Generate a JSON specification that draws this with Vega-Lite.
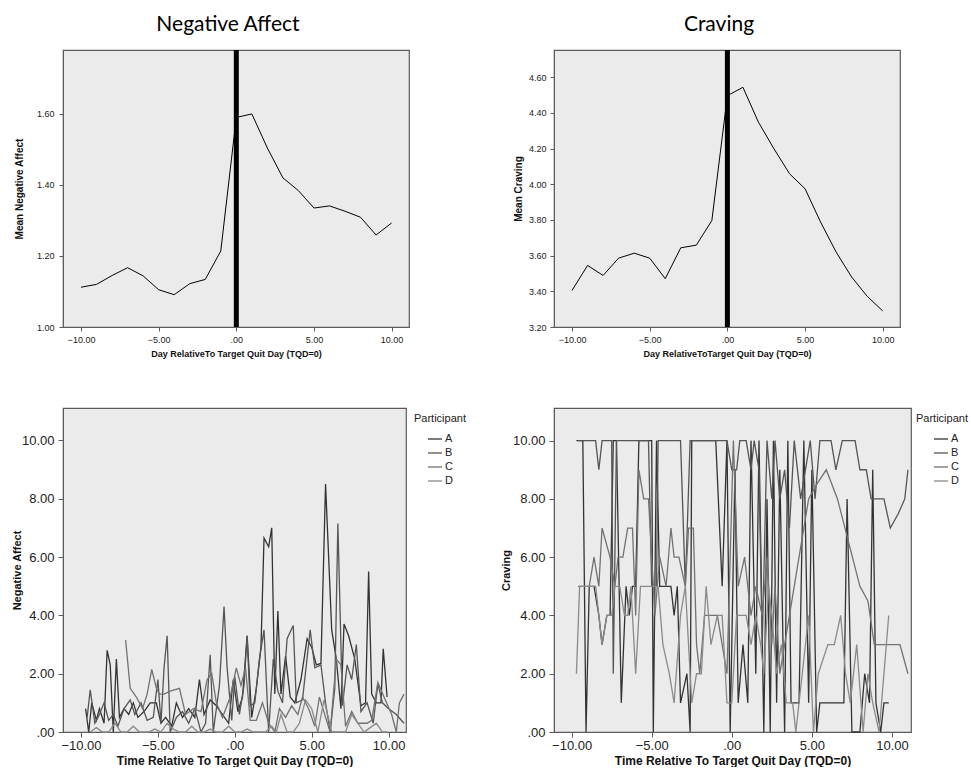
{
  "$schema": "https://vega.github.io/schema/vega-lite/v6.json",
  "padding": {"left": 10, "top": 12, "right": 0, "bottom": 0},
  "background": "white",
  "config": {
    "font": "Liberation Sans",
    "view": {"fill": "#ebebeb", "stroke": "#5b5b5b", "strokeWidth": 1.2},
    "axis": {"grid": false, "domainColor": "#5b5b5b", "tickColor": "#5b5b5b", "labelColor": "#222222", "titleColor": "#111111", "labelFont": "Liberation Sans", "titleFont": "Liberation Sans"},
    "title": {"font": "Lato", "fontSize": 21, "fontWeight": "normal", "color": "#000000"},
    "legend": {"orient": "right", "offset": 2, "padding": 5, "titleFontSize": 11, "titleFontWeight": "normal", "titleColor": "#222222", "labelFontSize": 11, "labelColor": "#222222", "symbolType": "stroke", "symbolSize": 196, "symbolStrokeWidth": 1.3, "symbolOffset": 13, "titlePadding": 7, "rowPadding": 1, "labelOffset": 2}
  },
  "datasets": {
    "na_mean": [
      {"day": -10, "value": 1.112}, {"day": -9, "value": 1.12}, {"day": -8, "value": 1.145}, {"day": -7, "value": 1.167},
      {"day": -6, "value": 1.144}, {"day": -5, "value": 1.105}, {"day": -4, "value": 1.091}, {"day": -3, "value": 1.122},
      {"day": -2, "value": 1.134}, {"day": -1, "value": 1.214}, {"day": 0, "value": 1.59}, {"day": 1, "value": 1.6},
      {"day": 2, "value": 1.504}, {"day": 3, "value": 1.42}, {"day": 4, "value": 1.384}, {"day": 5, "value": 1.335},
      {"day": 6, "value": 1.341}, {"day": 7, "value": 1.326}, {"day": 8, "value": 1.309}, {"day": 9, "value": 1.259},
      {"day": 10, "value": 1.293}
    ],
    "cr_mean": [
      {"day": -10, "value": 3.405}, {"day": -9, "value": 3.545}, {"day": -8, "value": 3.489}, {"day": -7, "value": 3.586},
      {"day": -6, "value": 3.614}, {"day": -5, "value": 3.586}, {"day": -4, "value": 3.471}, {"day": -3, "value": 3.644},
      {"day": -2, "value": 3.659}, {"day": -1, "value": 3.797}, {"day": 0, "value": 4.497}, {"day": 1, "value": 4.544},
      {"day": 2, "value": 4.348}, {"day": 3, "value": 4.199}, {"day": 4, "value": 4.059}, {"day": 5, "value": 3.975},
      {"day": 6, "value": 3.788}, {"day": 7, "value": 3.62}, {"day": 8, "value": 3.48}, {"day": 9, "value": 3.372},
      {"day": 10, "value": 3.29}
    ],
    "zero": [{"day": 0}],
    "na": [
      {"p":"A","t":-9.7,"v":0.8},{"p":"A","t":-9.5,"v":0.0},{"p":"A","t":-9.3,"v":1.0},{"p":"A","t":-9.0,"v":0.4},{"p":"A","t":-8.8,"v":0.8},{"p":"A","t":-8.5,"v":0.3},{"p":"A","t":-8.3,"v":2.8},{"p":"A","t":-8.1,"v":2.3},{"p":"A","t":-7.9,"v":0.0},{"p":"A","t":-7.7,"v":2.5},{"p":"A","t":-7.5,"v":0.5},{"p":"A","t":-7.2,"v":0.8},{"p":"A","t":-6.9,"v":0.6},{"p":"A","t":-6.6,"v":1.0},{"p":"A","t":-6.3,"v":0.5},{"p":"A","t":-5.9,"v":0.7},{"p":"A","t":-5.5,"v":1.0},{"p":"A","t":-5.1,"v":1.0},{"p":"A","t":-4.8,"v":0.3},{"p":"A","t":-4.5,"v":0.5},{"p":"A","t":-4.1,"v":0.2},{"p":"A","t":-3.8,"v":1.0},{"p":"A","t":-3.4,"v":0.5},{"p":"A","t":-3.0,"v":0.8},{"p":"A","t":-2.6,"v":0.5},{"p":"A","t":-2.3,"v":1.8},{"p":"A","t":-2.0,"v":0.6},{"p":"A","t":-1.6,"v":1.1},{"p":"A","t":-1.2,"v":0.9},{"p":"A","t":-0.8,"v":0.6},{"p":"A","t":-0.4,"v":0.3},{"p":"A","t":-0.1,"v":1.8},{"p":"A","t":0.2,"v":0.7},{"p":"A","t":0.5,"v":1.2},{"p":"A","t":0.8,"v":3.3},{"p":"A","t":1.1,"v":0.5},{"p":"A","t":1.4,"v":1.5},{"p":"A","t":1.7,"v":2.9},{"p":"A","t":1.9,"v":6.65},{"p":"A","t":2.2,"v":6.35},{"p":"A","t":2.4,"v":7.0},{"p":"A","t":2.6,"v":1.3},{"p":"A","t":2.8,"v":4.15},{"p":"A","t":3.0,"v":1.3},{"p":"A","t":3.3,"v":2.6},{"p":"A","t":3.6,"v":1.2},{"p":"A","t":3.9,"v":1.0},{"p":"A","t":4.3,"v":1.8},{"p":"A","t":4.7,"v":3.2},{"p":"A","t":5.0,"v":2.9},{"p":"A","t":5.3,"v":2.3},{"p":"A","t":5.6,"v":2.35},{"p":"A","t":5.9,"v":8.5},{"p":"A","t":6.3,"v":3.5},{"p":"A","t":6.6,"v":2.5},{"p":"A","t":6.9,"v":0.8},{"p":"A","t":7.1,"v":3.7},{"p":"A","t":7.4,"v":3.3},{"p":"A","t":7.8,"v":2.5},{"p":"A","t":8.2,"v":0.9},{"p":"A","t":8.5,"v":1.0},{"p":"A","t":8.7,"v":5.5},{"p":"A","t":8.9,"v":1.3},{"p":"A","t":9.2,"v":1.0},{"p":"A","t":9.5,"v":1.0},{"p":"A","t":9.65,"v":2.85},{"p":"A","t":9.9,"v":1.2},
      {"p":"B","t":-9.6,"v":0.5},{"p":"B","t":-9.4,"v":1.45},{"p":"B","t":-9.1,"v":0.3},{"p":"B","t":-8.8,"v":0.6},{"p":"B","t":-8.5,"v":1.0},{"p":"B","t":-8.2,"v":0.4},{"p":"B","t":-7.9,"v":0.6},{"p":"B","t":-7.6,"v":0.2},{"p":"B","t":-7.2,"v":0.8},{"p":"B","t":-6.8,"v":1.1},{"p":"B","t":-6.5,"v":0.6},{"p":"B","t":-6.1,"v":1.0},{"p":"B","t":-5.7,"v":0.4},{"p":"B","t":-5.3,"v":0.5},{"p":"B","t":-5.0,"v":1.8},{"p":"B","t":-4.8,"v":0.3},{"p":"B","t":-4.6,"v":2.2},{"p":"B","t":-4.4,"v":3.3},{"p":"B","t":-4.2,"v":0.0},{"p":"B","t":-3.8,"v":0.5},{"p":"B","t":-3.4,"v":0.7},{"p":"B","t":-3.0,"v":0.3},{"p":"B","t":-2.6,"v":0.8},{"p":"B","t":-2.2,"v":0.0},{"p":"B","t":-1.9,"v":0.3},{"p":"B","t":-1.6,"v":2.65},{"p":"B","t":-1.4,"v":0.0},{"p":"B","t":-1.0,"v":1.6},{"p":"B","t":-0.7,"v":4.3},{"p":"B","t":-0.5,"v":2.2},{"p":"B","t":-0.2,"v":0.4},{"p":"B","t":0.0,"v":1.9},{"p":"B","t":0.3,"v":0.6},{"p":"B","t":0.6,"v":1.6},{"p":"B","t":0.8,"v":3.3},{"p":"B","t":1.0,"v":0.9},{"p":"B","t":1.3,"v":1.0},{"p":"B","t":1.6,"v":2.5},{"p":"B","t":1.9,"v":3.5},{"p":"B","t":2.2,"v":0.0},{"p":"B","t":2.5,"v":2.5},{"p":"B","t":2.8,"v":1.4},{"p":"B","t":3.1,"v":1.0},{"p":"B","t":3.4,"v":3.2},{"p":"B","t":3.8,"v":3.65},{"p":"B","t":4.0,"v":1.0},{"p":"B","t":4.4,"v":1.1},{"p":"B","t":4.9,"v":3.5},{"p":"B","t":5.2,"v":2.2},{"p":"B","t":5.6,"v":2.3},{"p":"B","t":5.9,"v":1.0},{"p":"B","t":6.2,"v":0.0},{"p":"B","t":6.5,"v":1.5},{"p":"B","t":6.7,"v":7.15},{"p":"B","t":7.0,"v":0.9},{"p":"B","t":7.3,"v":2.3},{"p":"B","t":7.6,"v":1.8},{"p":"B","t":7.9,"v":3.0},{"p":"B","t":8.2,"v":0.7},{"p":"B","t":8.6,"v":1.0},{"p":"B","t":9.0,"v":0.3},{"p":"B","t":9.3,"v":1.65},{"p":"B","t":9.6,"v":1.0},{"p":"B","t":10.0,"v":0.8},{"p":"B","t":10.5,"v":0.6},{"p":"B","t":11.0,"v":0.3},
      {"p":"C","t":-7.1,"v":3.15},{"p":"C","t":-6.8,"v":1.5},{"p":"C","t":-6.4,"v":1.2},{"p":"C","t":-6.0,"v":0.8},{"p":"C","t":-5.7,"v":1.3},{"p":"C","t":-5.4,"v":2.15},{"p":"C","t":-5.1,"v":1.5},{"p":"C","t":-4.9,"v":1.3},{"p":"C","t":-4.6,"v":1.3},{"p":"C","t":-4.2,"v":1.4},{"p":"C","t":-3.6,"v":1.5},{"p":"C","t":-3.2,"v":0.6},{"p":"C","t":-2.7,"v":0.8},{"p":"C","t":-2.2,"v":0.7},{"p":"C","t":-1.8,"v":1.8},{"p":"C","t":-1.5,"v":2.0},{"p":"C","t":-1.2,"v":1.0},{"p":"C","t":-0.8,"v":0.5},{"p":"C","t":-0.3,"v":1.2},{"p":"C","t":0.1,"v":2.2},{"p":"C","t":0.4,"v":1.6},{"p":"C","t":0.7,"v":2.2},{"p":"C","t":1.0,"v":0.4},{"p":"C","t":1.4,"v":0.4},{"p":"C","t":1.8,"v":1.0},{"p":"C","t":2.2,"v":0.3},{"p":"C","t":2.6,"v":0.0},{"p":"C","t":2.9,"v":0.8},{"p":"C","t":3.3,"v":0.5},{"p":"C","t":3.7,"v":0.9},{"p":"C","t":4.1,"v":0.6},{"p":"C","t":4.4,"v":1.2},{"p":"C","t":4.8,"v":0.8},{"p":"C","t":5.2,"v":0.2},{"p":"C","t":5.5,"v":1.2},{"p":"C","t":5.9,"v":0.5},{"p":"C","t":6.2,"v":0.0},{"p":"C","t":6.6,"v":2.5},{"p":"C","t":6.9,"v":2.3},{"p":"C","t":7.2,"v":0.2},{"p":"C","t":7.6,"v":0.7},{"p":"C","t":8.0,"v":0.3},{"p":"C","t":8.3,"v":0.3},{"p":"C","t":8.6,"v":0.3},{"p":"C","t":8.9,"v":0.4},{"p":"C","t":9.3,"v":1.7},{"p":"C","t":9.7,"v":1.2},{"p":"C","t":10.2,"v":0.6},{"p":"C","t":10.5,"v":0.0},{"p":"C","t":10.7,"v":1.0},{"p":"C","t":11.0,"v":1.3},
      {"p":"D","t":-9.4,"v":0.0},{"p":"D","t":-9.0,"v":0.15},{"p":"D","t":-8.6,"v":0.0},{"p":"D","t":-8.2,"v":0.0},{"p":"D","t":-7.8,"v":0.3},{"p":"D","t":-7.4,"v":0.0},{"p":"D","t":-7.0,"v":0.0},{"p":"D","t":-6.6,"v":0.2},{"p":"D","t":-6.2,"v":0.0},{"p":"D","t":-5.6,"v":0.0},{"p":"D","t":-5.2,"v":0.1},{"p":"D","t":-4.8,"v":0.0},{"p":"D","t":-4.4,"v":0.3},{"p":"D","t":-4.0,"v":0.1},{"p":"D","t":-3.6,"v":0.0},{"p":"D","t":-3.2,"v":0.0},{"p":"D","t":-2.8,"v":0.2},{"p":"D","t":-2.4,"v":0.0},{"p":"D","t":-2.0,"v":0.0},{"p":"D","t":-1.6,"v":0.1},{"p":"D","t":-1.2,"v":0.0},{"p":"D","t":-0.8,"v":0.0},{"p":"D","t":-0.4,"v":0.2},{"p":"D","t":0.0,"v":0.0},{"p":"D","t":0.4,"v":0.0},{"p":"D","t":0.8,"v":0.1},{"p":"D","t":1.2,"v":0.0},{"p":"D","t":1.6,"v":0.0},{"p":"D","t":2.0,"v":0.0},{"p":"D","t":2.4,"v":0.2},{"p":"D","t":2.7,"v":0.0},{"p":"D","t":3.0,"v":0.6},{"p":"D","t":3.4,"v":0.0},{"p":"D","t":3.8,"v":0.0},{"p":"D","t":4.2,"v":0.3},{"p":"D","t":4.6,"v":1.1},{"p":"D","t":5.0,"v":0.8},{"p":"D","t":5.4,"v":0.0},{"p":"D","t":5.8,"v":1.1},{"p":"D","t":6.3,"v":0.0},{"p":"D","t":6.8,"v":0.0},{"p":"D","t":7.2,"v":0.0},{"p":"D","t":7.6,"v":0.6},{"p":"D","t":8.0,"v":0.3},{"p":"D","t":8.4,"v":0.0},{"p":"D","t":8.8,"v":0.15},{"p":"D","t":9.2,"v":0.3},{"p":"D","t":9.6,"v":0.0},{"p":"D","t":9.9,"v":0.0}
    ],
    "cr": [
      {"p":"A","t":-9.7,"v":10},{"p":"A","t":-9.5,"v":10},{"p":"A","t":-9.3,"v":10},{"p":"A","t":-9.1,"v":0},{"p":"A","t":-8.9,"v":5},{"p":"A","t":-8.6,"v":5},{"p":"A","t":-8.3,"v":4},{"p":"A","t":-8.1,"v":3},{"p":"A","t":-7.8,"v":4},{"p":"A","t":-7.6,"v":4},{"p":"A","t":-7.4,"v":10},{"p":"A","t":-7.2,"v":10},{"p":"A","t":-6.9,"v":1},{"p":"A","t":-6.6,"v":5},{"p":"A","t":-6.4,"v":4},{"p":"A","t":-6.2,"v":5},{"p":"A","t":-6.0,"v":5},{"p":"A","t":-5.8,"v":10},{"p":"A","t":-5.4,"v":10},{"p":"A","t":-5.0,"v":10},{"p":"A","t":-4.9,"v":0},{"p":"A","t":-4.7,"v":10},{"p":"A","t":-4.5,"v":5},{"p":"A","t":-4.1,"v":5},{"p":"A","t":-3.8,"v":5},{"p":"A","t":-3.6,"v":4},{"p":"A","t":-3.4,"v":5},{"p":"A","t":-3.2,"v":1},{"p":"A","t":-2.8,"v":2},{"p":"A","t":-2.6,"v":0},{"p":"A","t":-2.5,"v":10},{"p":"A","t":-2.0,"v":10},{"p":"A","t":-1.5,"v":10},{"p":"A","t":-1.0,"v":10},{"p":"A","t":-0.6,"v":5},{"p":"A","t":-0.3,"v":10},{"p":"A","t":-0.1,"v":0},{"p":"A","t":0.2,"v":9},{"p":"A","t":0.4,"v":1},{"p":"A","t":0.7,"v":3},{"p":"A","t":1.0,"v":1},{"p":"A","t":1.2,"v":10},{"p":"A","t":1.5,"v":2},{"p":"A","t":1.7,"v":10},{"p":"A","t":2.0,"v":0},{"p":"A","t":2.2,"v":8},{"p":"A","t":2.4,"v":0},{"p":"A","t":2.6,"v":10},{"p":"A","t":2.8,"v":1},{"p":"A","t":3.0,"v":9},{"p":"A","t":3.3,"v":0},{"p":"A","t":3.5,"v":10},{"p":"A","t":3.7,"v":1},{"p":"A","t":4.0,"v":1},{"p":"A","t":4.2,"v":1},{"p":"A","t":4.5,"v":10},{"p":"A","t":4.8,"v":1},{"p":"A","t":5.0,"v":9},{"p":"A","t":5.3,"v":0},{"p":"A","t":5.5,"v":1},{"p":"A","t":6.0,"v":1},{"p":"A","t":6.5,"v":1},{"p":"A","t":7.0,"v":1},{"p":"A","t":7.2,"v":8},{"p":"A","t":7.5,"v":0},{"p":"A","t":8.0,"v":0},{"p":"A","t":8.3,"v":2},{"p":"A","t":8.6,"v":1},{"p":"A","t":8.8,"v":9},{"p":"A","t":9.0,"v":1},{"p":"A","t":9.3,"v":0},{"p":"A","t":9.5,"v":1},{"p":"A","t":9.8,"v":1},
      {"p":"B","t":-9.6,"v":10},{"p":"B","t":-9.2,"v":10},{"p":"B","t":-8.8,"v":10},{"p":"B","t":-8.5,"v":10},{"p":"B","t":-8.3,"v":9},{"p":"B","t":-8.1,"v":10},{"p":"B","t":-7.8,"v":10},{"p":"B","t":-7.5,"v":10},{"p":"B","t":-7.4,"v":2},{"p":"B","t":-7.2,"v":10},{"p":"B","t":-6.8,"v":10},{"p":"B","t":-6.4,"v":10},{"p":"B","t":-6.0,"v":10},{"p":"B","t":-5.6,"v":10},{"p":"B","t":-5.2,"v":10},{"p":"B","t":-5.0,"v":5},{"p":"B","t":-4.7,"v":5},{"p":"B","t":-4.6,"v":10},{"p":"B","t":-4.2,"v":10},{"p":"B","t":-3.8,"v":10},{"p":"B","t":-3.5,"v":10},{"p":"B","t":-3.2,"v":10},{"p":"B","t":-2.9,"v":5},{"p":"B","t":-2.6,"v":10},{"p":"B","t":-2.2,"v":10},{"p":"B","t":-1.8,"v":10},{"p":"B","t":-1.4,"v":10},{"p":"B","t":-1.0,"v":10},{"p":"B","t":-0.6,"v":10},{"p":"B","t":-0.3,"v":10},{"p":"B","t":0.0,"v":9},{"p":"B","t":0.3,"v":9},{"p":"B","t":0.5,"v":10},{"p":"B","t":0.9,"v":10},{"p":"B","t":1.2,"v":9},{"p":"B","t":1.4,"v":10},{"p":"B","t":1.7,"v":9},{"p":"B","t":1.9,"v":3},{"p":"B","t":2.2,"v":10},{"p":"B","t":2.5,"v":8},{"p":"B","t":2.7,"v":10},{"p":"B","t":3.0,"v":8},{"p":"B","t":3.3,"v":9},{"p":"B","t":3.6,"v":7},{"p":"B","t":3.9,"v":10},{"p":"B","t":4.3,"v":8},{"p":"B","t":4.6,"v":9},{"p":"B","t":4.9,"v":10},{"p":"B","t":5.2,"v":8},{"p":"B","t":5.5,"v":10},{"p":"B","t":5.8,"v":10},{"p":"B","t":6.2,"v":10},{"p":"B","t":6.5,"v":9},{"p":"B","t":6.9,"v":10},{"p":"B","t":7.3,"v":10},{"p":"B","t":7.7,"v":10},{"p":"B","t":8.0,"v":9},{"p":"B","t":8.4,"v":9},{"p":"B","t":8.7,"v":8},{"p":"B","t":9.0,"v":8},{"p":"B","t":9.5,"v":8},{"p":"B","t":9.9,"v":7},{"p":"B","t":10.4,"v":7.5},{"p":"B","t":10.8,"v":8},{"p":"B","t":11.0,"v":9},
      {"p":"C","t":-9.6,"v":5},{"p":"C","t":-9.3,"v":5},{"p":"C","t":-8.9,"v":5},{"p":"C","t":-8.6,"v":6},{"p":"C","t":-8.3,"v":5},{"p":"C","t":-8.1,"v":7},{"p":"C","t":-7.6,"v":6},{"p":"C","t":-7.3,"v":5},{"p":"C","t":-7.1,"v":6},{"p":"C","t":-6.8,"v":6},{"p":"C","t":-6.5,"v":7},{"p":"C","t":-6.2,"v":7},{"p":"C","t":-6.0,"v":4},{"p":"C","t":-5.8,"v":9},{"p":"C","t":-5.5,"v":8},{"p":"C","t":-5.2,"v":8},{"p":"C","t":-5.0,"v":6},{"p":"C","t":-4.8,"v":4},{"p":"C","t":-4.5,"v":6},{"p":"C","t":-4.1,"v":5},{"p":"C","t":-3.8,"v":7},{"p":"C","t":-3.6,"v":6},{"p":"C","t":-3.3,"v":6},{"p":"C","t":-2.9,"v":5},{"p":"C","t":-2.7,"v":7},{"p":"C","t":-2.4,"v":7},{"p":"C","t":-2.2,"v":3},{"p":"C","t":-2.0,"v":2},{"p":"C","t":-1.7,"v":4},{"p":"C","t":-1.3,"v":4},{"p":"C","t":-0.9,"v":4},{"p":"C","t":-0.6,"v":3},{"p":"C","t":-0.3,"v":2},{"p":"C","t":0.1,"v":10},{"p":"C","t":0.4,"v":5},{"p":"C","t":0.8,"v":6},{"p":"C","t":1.2,"v":4},{"p":"C","t":1.5,"v":5},{"p":"C","t":1.9,"v":4},{"p":"C","t":2.2,"v":6},{"p":"C","t":2.5,"v":3},{"p":"C","t":2.7,"v":5},{"p":"C","t":3.0,"v":2},{"p":"C","t":3.3,"v":3},{"p":"C","t":3.6,"v":4},{"p":"C","t":4.2,"v":6},{"p":"C","t":4.8,"v":8},{"p":"C","t":5.3,"v":8.5},{"p":"C","t":5.9,"v":9},{"p":"C","t":6.6,"v":8},{"p":"C","t":7.3,"v":6.5},{"p":"C","t":8.0,"v":5},{"p":"C","t":8.5,"v":4.5},{"p":"C","t":8.9,"v":3},{"p":"C","t":9.5,"v":3},{"p":"C","t":10.1,"v":3},{"p":"C","t":10.5,"v":3},{"p":"C","t":11.0,"v":2},
      {"p":"D","t":-9.7,"v":2},{"p":"D","t":-9.5,"v":5},{"p":"D","t":-9.2,"v":5},{"p":"D","t":-8.8,"v":5},{"p":"D","t":-8.5,"v":5},{"p":"D","t":-8.1,"v":3},{"p":"D","t":-7.8,"v":4},{"p":"D","t":-7.5,"v":4},{"p":"D","t":-7.3,"v":5},{"p":"D","t":-7.0,"v":5},{"p":"D","t":-6.7,"v":4},{"p":"D","t":-6.5,"v":4},{"p":"D","t":-6.3,"v":5},{"p":"D","t":-6.0,"v":2},{"p":"D","t":-5.7,"v":5},{"p":"D","t":-5.3,"v":5},{"p":"D","t":-5.0,"v":5},{"p":"D","t":-4.6,"v":5},{"p":"D","t":-4.3,"v":3},{"p":"D","t":-3.9,"v":2},{"p":"D","t":-3.6,"v":1},{"p":"D","t":-3.2,"v":4},{"p":"D","t":-2.9,"v":5},{"p":"D","t":-2.5,"v":1},{"p":"D","t":-2.2,"v":2},{"p":"D","t":-1.9,"v":2},{"p":"D","t":-1.6,"v":5},{"p":"D","t":-1.3,"v":3},{"p":"D","t":-0.9,"v":4},{"p":"D","t":-0.6,"v":4},{"p":"D","t":-0.3,"v":1},{"p":"D","t":0.0,"v":1},{"p":"D","t":0.3,"v":4},{"p":"D","t":0.6,"v":4},{"p":"D","t":0.9,"v":4},{"p":"D","t":1.2,"v":3},{"p":"D","t":1.5,"v":4},{"p":"D","t":1.8,"v":3},{"p":"D","t":2.0,"v":2},{"p":"D","t":2.3,"v":5},{"p":"D","t":2.5,"v":4},{"p":"D","t":2.8,"v":2},{"p":"D","t":3.1,"v":3},{"p":"D","t":3.4,"v":1},{"p":"D","t":3.8,"v":1},{"p":"D","t":4.0,"v":0},{"p":"D","t":4.4,"v":2},{"p":"D","t":4.8,"v":4},{"p":"D","t":5.1,"v":0},{"p":"D","t":5.4,"v":2},{"p":"D","t":6.0,"v":3},{"p":"D","t":6.4,"v":3},{"p":"D","t":6.8,"v":4},{"p":"D","t":7.1,"v":2},{"p":"D","t":7.4,"v":1},{"p":"D","t":7.8,"v":3},{"p":"D","t":8.2,"v":0},{"p":"D","t":8.5,"v":2},{"p":"D","t":8.8,"v":1},{"p":"D","t":9.2,"v":0},{"p":"D","t":9.5,"v":2},{"p":"D","t":9.8,"v":4}
    ]
  },
  "bounds": "flush",
  "columns": 2,
  "spacing": {"row": 81, "column": 145},
  "resolve": {"scale": {"color": "independent"}, "legend": {"color": "independent"}},
  "concat": [
    {
      "width": 346, "height": 277,
      "title": {"text": "Negative Affect", "offset": -4, "dx": -8, "baseline": "alphabetic"},
      "layer": [
        {
          "data": {"name": "na_mean"},
          "mark": {"type": "line", "color": "#000000", "strokeWidth": 1},
          "encoding": {
            "x": {"field": "day", "type": "quantitative", "scale": {"domain": [-11.16, 11.12], "nice": false, "zero": false},
              "axis": {"values": [-10, -5, 0, 5, 10], "labelExpr": "datum.value === 0 ? '.00' : format(datum.value, '.2f')", "title": "Day RelativeTo Target Quit Day (TQD=0)", "titleFontSize": 9, "titleFontWeight": "bold", "labelFontSize": 9, "tickSize": 4, "labelPadding": 4, "titlePadding": 5}},
            "y": {"field": "value", "type": "quantitative", "scale": {"domain": [1, 1.78], "nice": false, "zero": false},
              "axis": {"values": [1, 1.2, 1.4, 1.6], "format": ".2f", "title": "Mean Negative Affect", "titleFontSize": 10, "titleFontWeight": "bold", "labelFontSize": 9, "tickSize": 4, "labelPadding": 5, "minExtent": 27, "maxExtent": 27, "titlePadding": 12}}
          }
        },
        {
          "data": {"name": "zero"},
          "mark": {"type": "rule", "color": "#000000", "strokeWidth": 5},
          "encoding": {"x": {"field": "day", "type": "quantitative"}}
        }
      ]
    },
    {
      "width": 346, "height": 277,
      "title": {"text": "Craving", "offset": -4, "dx": -8, "baseline": "alphabetic"},
      "layer": [
        {
          "data": {"name": "cr_mean"},
          "mark": {"type": "line", "color": "#000000", "strokeWidth": 1},
          "encoding": {
            "x": {"field": "day", "type": "quantitative", "scale": {"domain": [-11.16, 11.11], "nice": false, "zero": false},
              "axis": {"values": [-10, -5, 0, 5, 10], "labelExpr": "datum.value === 0 ? '.00' : format(datum.value, '.2f')", "title": "Day RelativeToTarget Quit Day (TQD=0)", "titleFontSize": 9, "titleFontWeight": "bold", "labelFontSize": 9, "tickSize": 4, "labelPadding": 4, "titlePadding": 5}},
            "y": {"field": "value", "type": "quantitative", "scale": {"domain": [3.2, 4.753], "nice": false, "zero": false},
              "axis": {"values": [3.2, 3.4, 3.6, 3.8, 4.0, 4.2, 4.4, 4.6], "format": ".2f", "title": "Mean Craving", "titleFontSize": 10, "titleFontWeight": "bold", "labelFontSize": 9, "tickSize": 4, "labelPadding": 4, "minExtent": 26, "maxExtent": 26, "titlePadding": 5}}
          }
        },
        {
          "data": {"name": "zero"},
          "mark": {"type": "rule", "color": "#000000", "strokeWidth": 5},
          "encoding": {"x": {"field": "day", "type": "quantitative"}}
        }
      ]
    },
    {
      "width": 343, "height": 324,
      "data": {"name": "na"},
      "mark": {"type": "line", "strokeWidth": 1.3},
      "encoding": {
        "x": {"field": "t", "type": "quantitative", "scale": {"domain": [-11.17, 11.13], "nice": false, "zero": false},
          "axis": {"values": [-10, -5, 0, 5, 10], "labelExpr": "datum.value === 0 ? '.00' : format(datum.value, '.2f')", "title": "Time Relative To Target Quit Day (TQD=0)", "titleFontSize": 12, "titleFontWeight": "bold", "labelFontSize": 13, "tickSize": 5, "labelPadding": 2, "titlePadding": 3}},
        "y": {"field": "v", "type": "quantitative", "scale": {"domain": [0, 11.11], "nice": false, "zero": false},
          "axis": {"values": [0, 2, 4, 6, 8, 10], "labelExpr": "datum.value === 0 ? '.00' : format(datum.value, '.2f')", "title": "Negative Affect", "titleFontSize": 11, "titleFontWeight": "bold", "labelFontSize": 13, "tickSize": 5, "labelPadding": 4, "minExtent": 41, "maxExtent": 41, "titlePadding": 0}},
        "color": {"field": "p", "type": "nominal", "scale": {"domain": ["A", "B", "C", "D"], "range": ["#333333", "#555555", "#727272", "#8a8a8a"]},
          "legend": {"title": "Participant", "symbolOffset": 13}}
      }
    },
    {
      "width": 357, "height": 324,
      "data": {"name": "cr"},
      "mark": {"type": "line", "strokeWidth": 1.3},
      "encoding": {
        "x": {"field": "t", "type": "quantitative", "scale": {"domain": [-11.1, 11.19], "nice": false, "zero": false},
          "axis": {"values": [-10, -5, 0, 5, 10], "labelExpr": "datum.value === 0 ? '.00' : format(datum.value, '.2f')", "title": "Time Relative To Target Quit Day (TQD=0)", "titleFontSize": 12, "titleFontWeight": "bold", "labelFontSize": 13, "tickSize": 5, "labelPadding": 2, "titlePadding": 3}},
        "y": {"field": "v", "type": "quantitative", "scale": {"domain": [0, 11.12], "nice": false, "zero": false},
          "axis": {"values": [0, 2, 4, 6, 8, 10], "labelExpr": "datum.value === 0 ? '.00' : format(datum.value, '.2f')", "title": "Craving", "titleFontSize": 11, "titleFontWeight": "bold", "labelFontSize": 13, "tickSize": 5, "labelPadding": 4, "minExtent": 40, "maxExtent": 40, "titlePadding": 3}},
        "color": {"field": "p", "type": "nominal", "scale": {"domain": ["A", "B", "C", "D"], "range": ["#333333", "#555555", "#727272", "#8a8a8a"]},
          "legend": {"title": "Participant", "symbolOffset": 17, "offset": 0}}
      }
    }
  ]
}
